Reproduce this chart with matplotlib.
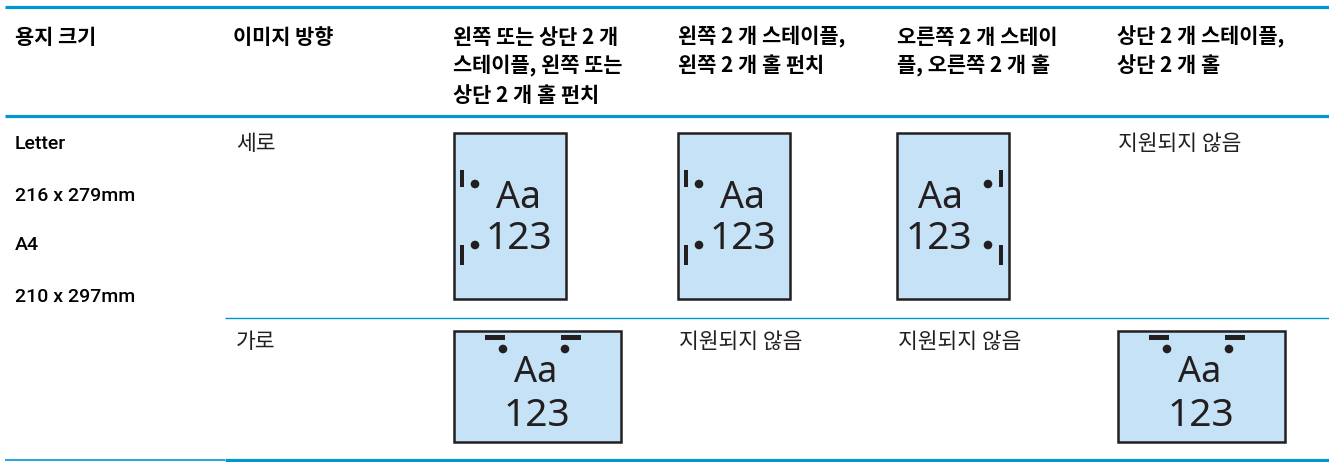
import matplotlib
matplotlib.use("Agg")
import matplotlib.pyplot as plt
from matplotlib.patches import Rectangle, Circle

# ---- content ----
headers = [
    ["용지 크기"],
    ["이미지 방향"],
    ["왼쪽 또는 상단 2 개", "스테이플, 왼쪽 또는", "상단 2 개 홀 펀치"],
    ["왼쪽 2 개 스테이플,", "왼쪽 2 개 홀 펀치"],
    ["오른쪽 2 개 스테이", "플, 오른쪽 2 개 홀"],
    ["상단 2 개 스테이플,", "상단 2 개 홀"],
]
paper_sizes = ["Letter", "216 x 279mm", "A4", "210 x 297mm"]
orientations = ["세로", "가로"]
not_supported = "지원되지 않음"
# icon kind per (orientation row, finishing column); None = not supported
support = [
    ["left", "left", "right", None],
    ["top", None, None, "top"],
]
icon_text = ["Aa", "123"]

# ---- layout ----
W, H = 1329, 462
BLUE = "#0096D6"
INK = "#231F20"
FILL = "#C5E2F6"
col_x = [15, 233, 453, 678, 897, 1117]
head_y = [37, 66, 95]
row_top = [133, 331]
row_text_y = [144, 342]
size_y = [144, 196, 245, 297]

KR = ["Noto Sans CJK KR", "DejaVu Sans"]
LAT = ["Roboto", "DejaVu Sans"]
ICON = ["Noto Sans", "DejaVu Sans"]

fig = plt.figure(figsize=(W / 100, H / 100), dpi=100)
ax = fig.add_axes([0, 0, 1, 1])
ax.set_xlim(0, W)
ax.set_ylim(H, 0)
ax.axis("off")

# rules
ax.plot([5, W], [6.5, 6.5], color=BLUE, lw=2.3, solid_capstyle="butt")
ax.plot([5, W], [116, 116], color=BLUE, lw=2.3, solid_capstyle="butt")
ax.plot([225, W], [317.5, 317.5], color=BLUE, lw=1.0, solid_capstyle="butt")
ax.plot([5, 225], [459.5, 459.5], color=BLUE, lw=1.2, solid_capstyle="butt")
ax.plot([225, W], [459.5, 459.5], color=BLUE, lw=2.3, solid_capstyle="butt")

# headers
for x, lines in zip(col_x, headers):
    for y, t in zip(head_y, lines):
        ax.text(x, y, t, family=KR, fontsize=15, fontweight="bold",
                color="black", ha="left", va="center")

# paper sizes
for y, t in zip(size_y, paper_sizes):
    ax.text(col_x[0], y, t, family=LAT, fontsize=14, fontweight="medium",
            color="black", ha="left", va="center")

# orientations
for y, t in zip(row_text_y, orientations):
    ax.text(col_x[1] + 3, y, t, family=KR, fontsize=15.5, fontweight="light",
            color=INK, ha="left", va="center")


def portrait(L, T, side):
    w, h = 112, 166
    ax.add_patch(Rectangle((L, T), w, h, facecolor=FILL, edgecolor=INK, lw=1.8))
    if side == "left":
        bx, dx, ax_, nx = L + 6, L + 21, L + 65, L + 65
    else:
        bx, dx, ax_, nx = L + w - 10, L + w - 21, L + 44, L + 41.5
    ax.add_patch(Rectangle((bx, T + 37), 4, 17, facecolor=INK, edgecolor="none"))
    ax.add_patch(Rectangle((bx, T + 112), 4, 20, facecolor=INK, edgecolor="none"))
    ax.add_patch(Circle((dx, T + 51), 4.3, facecolor=INK, edgecolor="none"))
    ax.add_patch(Circle((dx, T + 112), 4.3, facecolor=INK, edgecolor="none"))
    ax.text(ax_, T + 64.5, icon_text[0], family=ICON, fontsize=27, color=INK,
            ha="center", va="center")
    ax.text(nx, T + 106, icon_text[1], family=ICON, fontsize=28, color=INK,
            ha="center", va="center")


def landscape(L, T):
    w, h = 167, 111
    ax.add_patch(Rectangle((L, T), w, h, facecolor=FILL, edgecolor=INK, lw=1.8))
    for bx, dx in [(L + 31, L + 49), (L + 107, L + 111)]:
        ax.add_patch(Rectangle((bx, T + 4), 20, 4.5, facecolor=INK, edgecolor="none"))
        ax.add_patch(Circle((dx, T + 18), 4.3, facecolor=INK, edgecolor="none"))
    ax.text(L + 82, T + 41.5, icon_text[0], family=ICON, fontsize=26, color=INK,
            ha="center", va="center")
    ax.text(L + 83, T + 85, icon_text[1], family=ICON, fontsize=28, color=INK,
            ha="center", va="center")


for r, row in enumerate(support):
    for c, kind in enumerate(row):
        x = col_x[c + 2]
        if kind is None:
            ax.text(x + 1, row_text_y[r], not_supported, family=KR, fontsize=15.5,
                    fontweight="light", color=INK, ha="left", va="center")
        elif kind == "top":
            landscape(x + 1, row_top[r])
        else:
            portrait(x + 1 if c == 0 else x, row_top[r], kind)

fig.savefig("out.png", dpi=100)
